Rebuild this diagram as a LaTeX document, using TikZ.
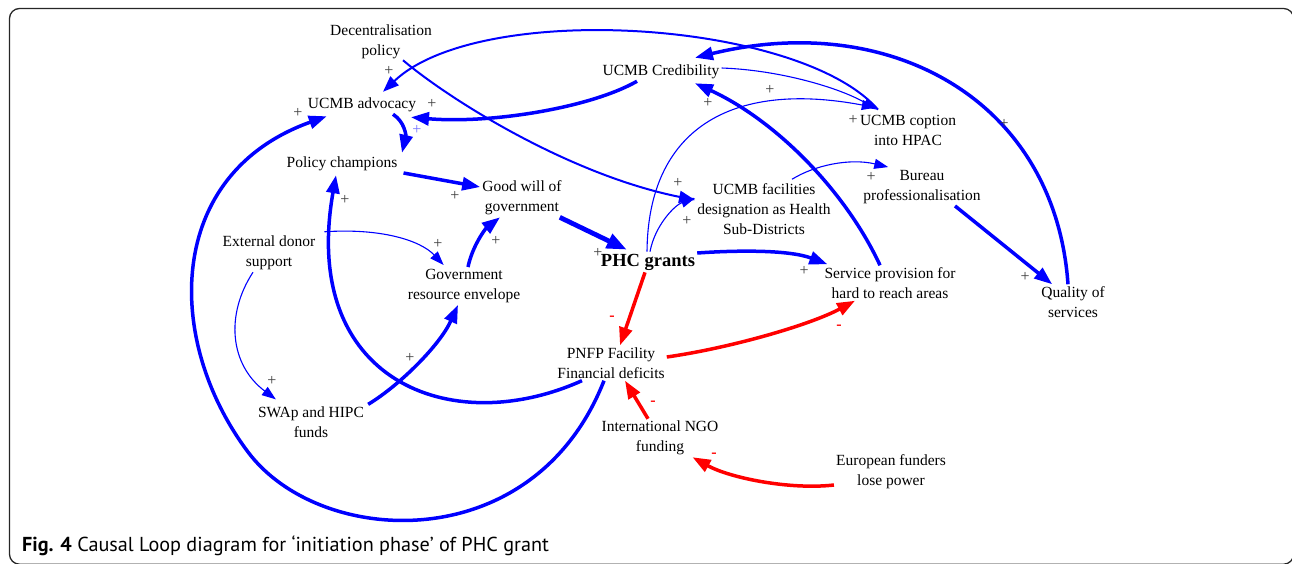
\documentclass[tikz,border=0pt]{standalone}
\usepackage{fontspec}
\setmainfont{Liberation Serif}
\newfontfamily\capfont{PT Sans}
\usetikzlibrary{arrows.meta}
\definecolor{cldblue}{RGB}{0,0,255}
\definecolor{cldred}{RGB}{255,0,0}
\definecolor{signgray}{RGB}{60,60,60}
\tikzset{
  var/.style={align=center, inner sep=2pt, font=\fontsize{15.5}{20}\selectfont},
  reinf/.style={draw=cldblue},
  balanc/.style={draw=cldred},
  thin link/.style={line width=1.1pt, -{Triangle[length=14pt,width=10pt]}},
  mid link/.style={line width=2pt, -{Triangle[length=16pt,width=12pt]}},
  thick link/.style={line width=3.5pt, -{Triangle[length=18pt,width=13pt]}},
  heavy link/.style={line width=4.8pt, -{Triangle[length=20pt,width=15pt]}},
  plus sign/.style={text=signgray, inner sep=0pt, font=\fontsize{16}{16}\selectfont},
  minus sign/.style={text=cldred, inner sep=0pt, font=\fontsize{16}{16}\selectfont\bfseries},
}
\begin{document}
\begin{tikzpicture}[x=1pt,y=1pt]
  \useasboundingbox (0,0) rectangle (1292,-563);
  \draw[line width=1.3pt, rounded corners=10pt, draw=black!85] (9.5,-8.5) rectangle (1293.6,-564.2);

  % variables
  \node[var] (dec) at (381,-42) {Decentralisation\\policy};
  \node[var] (adv) at (362,-105) {UCMB advocacy};
  \node[var] (champ) at (342,-164) {Policy champions};
  \node[var] (good) at (522,-198) {Good will of\\government};
  \node[var] (donor) at (269,-253) {External donor\\support};
  \node[var] (env) at (464,-286) {Government\\resource envelope};
  \node[var, font=\fontsize{18.5}{20}\selectfont\bfseries] (phc) at (648,-262) {PHC grants};
  \node[var] (cred) at (661,-72) {UCMB Credibility};
  \node[var] (copt) at (908,-130) {UCMB coption\\into HPAC};
  \node[var] (fac) at (764,-209) {UCMB facilities\\designation as Health\\Sub-Districts};
  \node[var] (bur) at (922,-187) {Bureau\\professionalisation};
  \node[var] (serv) at (890,-283) {Service provision for\\hard to reach areas};
  \node[var] (qual) at (1073,-302) {Quality of\\services};
  \node[var] (pnfp) at (611,-363) {PNFP Facility\\Financial deficits};
  \node[var] (swap) at (311,-422) {SWAp and HIPC\\funds};
  \node[var] (ngo) at (660,-438) {International NGO\\funding};
  \node[var] (euro) at (891,-472) {European funders\\lose power};

  % reinforcing links
  \draw[reinf, thick link] ([xshift=-24pt]cred.south) .. controls (590,-108) and (490,-124) .. ([xshift=49pt,yshift=-3pt]adv.south);
  \draw[reinf, mid link] ([xshift=-30pt,yshift=3pt]copt.north) .. controls (800,-20) and (480,0) .. ([xshift=21pt,yshift=4pt]adv.north);
  \draw[reinf, thick link] ([xshift=-5pt]qual.north) .. controls (1055,-100) and (890,-10) .. ([xshift=34pt,yshift=5pt]cred.north);
  \draw[reinf, thick link] ([xshift=-10pt]serv.north) .. controls (845,-190) and (775,-120) .. ([xshift=34pt,yshift=-2pt]cred.south);
  \draw[reinf, thick link] ([xshift=31pt]adv.south) .. controls (405,-122) and (406,-136) .. ([xshift=60pt,yshift=2pt]champ.north);
  \draw[reinf, thick link] ([xshift=4pt,yshift=-9pt]champ.east) -- ([yshift=11pt]good.west);
  \draw[reinf, heavy link] ([xshift=-4pt]good.south east) -- ([xshift=28pt,yshift=2pt]phc.north west);
  \draw[reinf, thick link] ([xshift=4pt]env.north) .. controls (472,-247) and (485,-229) .. ([xshift=-22pt]good.south);
  \draw[reinf, thick link] ([xshift=2pt]swap.north east) .. controls (400,-385) and (440,-345) .. ([xshift=-6pt]env.south);
  \draw[reinf, thin link] ([xshift=-16pt]donor.south) .. controls (225,-315) and (230,-365) .. ([xshift=20pt,yshift=5pt]swap.north west);
  \draw[reinf, thin link] ([xshift=7pt,yshift=2pt]donor.north east) .. controls (380,-228) and (420,-240) .. ([xshift=38pt,yshift=2pt]env.north west);
  \draw[reinf, thick link] ([xshift=-29pt]pnfp.south) .. controls (450,-440) and (300,-380) .. ([xshift=-6pt,yshift=-2pt]champ.south);
  \draw[reinf, thick link] ([xshift=-7pt]pnfp.south) .. controls (534,-559) and (320,-548) .. (248,-452)
    .. controls (164,-340) and (165,-174) .. ([xshift=21pt,yshift=-2pt]adv.south west);
  \draw[reinf, thick link] ([yshift=9pt]phc.east) .. controls (740,-250) and (790,-250) .. ([xshift=5pt,yshift=1pt]serv.north west);
  \draw[reinf, thin link] ([xshift=2pt]phc.north) .. controls (655,-225) and (675,-205) .. ([yshift=11pt]fac.west);
  \draw[reinf, thin link] ([xshift=-1pt]phc.north) .. controls (648,-130) and (730,-80) .. ([xshift=18pt,yshift=5pt]copt.north west);
  \draw[reinf, thin link] ([yshift=4pt]cred.east) .. controls (780,-70) and (840,-88) .. ([xshift=19pt,yshift=3pt]copt.north west);
  \draw[reinf, mid link] ([xshift=22pt,yshift=1pt]dec.south) .. controls (450,-100) and (570,-175) .. ([yshift=9pt]fac.west);
  \draw[reinf, thin link] ([xshift=28pt,yshift=2pt]fac.north) .. controls (815,-165) and (850,-158) .. ([xshift=27pt,yshift=1pt]bur.north west);
  \draw[reinf, thick link] ([xshift=33pt]bur.south) -- ([xshift=13pt]qual.north west);

  % balancing links
  \draw[balanc, thick link] ([xshift=-3pt]phc.south) -- ([xshift=9pt]pnfp.north);
  \draw[balanc, thick link] ([yshift=6pt]pnfp.east) .. controls (730,-348) and (810,-325) .. ([xshift=-35pt]serv.south);
  \draw[balanc, thick link] ([xshift=-12pt]ngo.north) -- ([xshift=14pt]pnfp.south);
  \draw[balanc, thick link] ([yshift=-13pt]euro.west) .. controls (790,-490) and (730,-478) .. ([xshift=-28pt]ngo.south east);

  % polarity signs
  \foreach \x/\y [count=\i] in {389/71, 432/104, 298/113, 708/103, 770/90, 853/120, 1004/124,
      345/200, 455/196, 598/253, 496/241, 438/244, 410/358, 272/381, 678/183, 687/221,
      871/177, 804/271, 1025/277}
    \node[plus sign] (p\i) at (\x,-\y) {+};
  \node[plus sign, text=cldblue!55] (pb) at (417,-130) {+};
  \foreach \x/\y [count=\i] in {612/318, 839/327, 653/403, 714/455}
    \node[minus sign] (m\i) at (\x,-\y) {-};

  % caption
  \node[anchor=base west, inner sep=0pt, font=\capfont\fontsize{20.2}{22}\selectfont] (cap) at (22,-551)
    {\textbf{Fig. 4} Causal Loop diagram for ‘initiation phase’ of PHC grant};
\end{tikzpicture}
\end{document}
